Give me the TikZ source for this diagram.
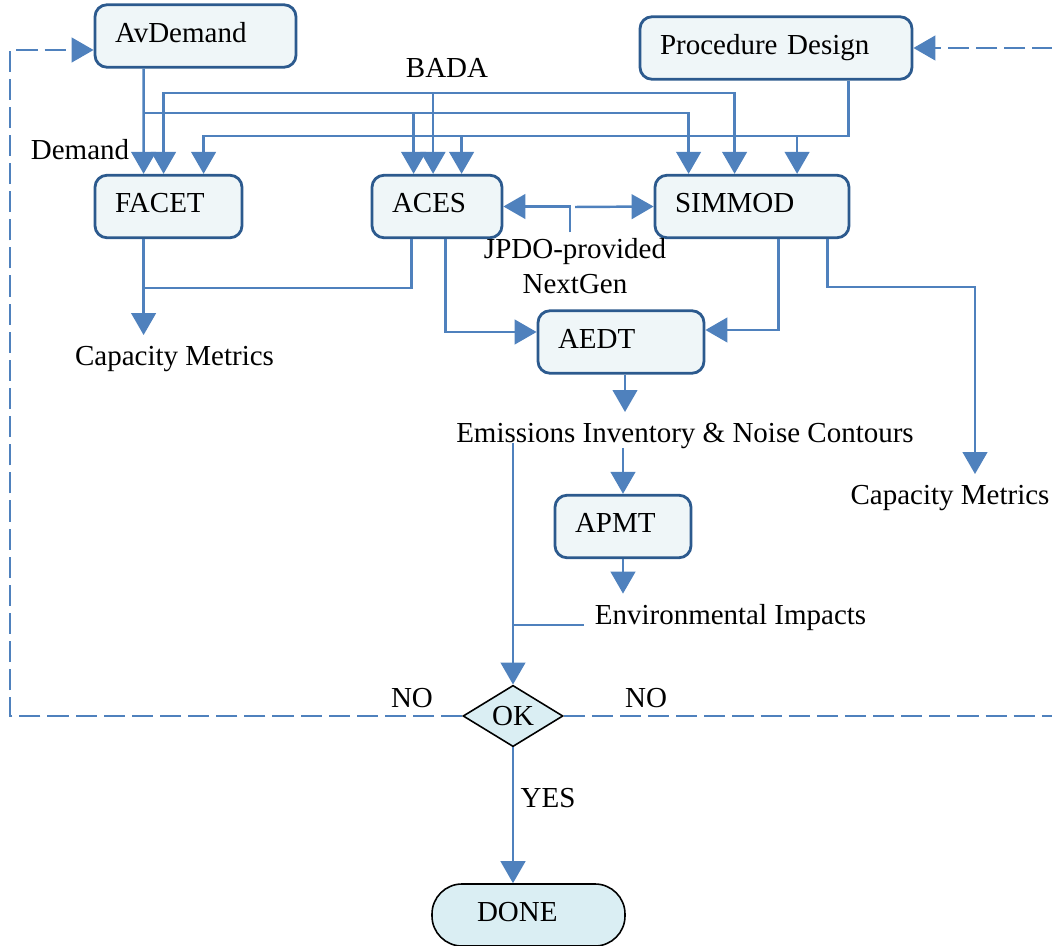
\documentclass[tikz,border=0pt]{standalone}
\usepackage{fontspec}
\setmainfont{Liberation Serif}
\usepackage{tikz}
\usetikzlibrary{positioning}
\usetikzlibrary{arrows.meta}
\usetikzlibrary{shapes.geometric}
\definecolor{wire}{HTML}{4F81BD}
\definecolor{boxline}{HTML}{2C5A8E}
\definecolor{boxfill}{HTML}{EFF6F8}
\definecolor{endfill}{HTML}{DAEEF3}
\tikzset{
blk/.style={
  rectangle,
  rounded corners=0.24cm,
  draw=boxline,
  line width=1.6pt,
  fill=boxfill,
  minimum height=1.25cm,
  text height=0.42cm,
  text depth=0.16cm,
  align=left,
  inner xsep=0.4cm
  },
dec/.style={
  diamond,
  draw=black,
  line width=0.9pt,
  fill=endfill,
  inner sep=0pt,
  minimum width=2cm,
  minimum height=1.12cm
  },
term/.style={
  rectangle,
  rounded corners=0.6cm,
  draw=black,
  line width=0.9pt,
  fill=endfill,
  minimum height=1.24cm,
  text height=0.42cm,
  text depth=0.16cm,
  align=left,
  inner xsep=0.9cm
  },
lbl/.style={
  inner sep=0.2cm
  },
fb/.style={
  dash pattern=on 12pt off 4pt
  }
}

\begin{document}
\begin{tikzpicture}[->,>={Triangle[width=14pt,length=12.5pt]},line width=1.4pt,draw=wire,
  font=\fontsize{16.5}{20}\selectfont]
        \useasboundingbox (0,0) rectangle (21.04,-18.92);
        % tools
        \node[blk,text width=3.22cm] at (3.91,-0.72) (avd) {AvDemand};
        \node[blk,text width=4.64cm] at (15.52,-0.96) (pd) {Procedure Design};
        \node[blk,text width=2.14cm] at (3.37,-4.13) (facet) {FACET};
        \node[blk,text width=1.80cm] at (8.74,-4.13) (aces) {ACES};
        \node[blk,text width=3.08cm] at (15.04,-4.13) (simmod) {SIMMOD};
        \node[blk,text width=2.52cm] at (12.42,-6.84) (aedt) {AEDT};
        \node[blk,text width=1.92cm] at (12.46,-10.53) (apmt) {APMT};
        \node[dec] at (10.26,-14.32) (ok) {OK};
        \node[term,text width=2.06cm] at (10.57,-18.3) (done) {DONE};
        % data and outputs
        \node[lbl] at (8.94,-1.36) (bada) {BADA};
        \node[lbl] at (1.6,-3.0) (dem) {Demand};
        \node[lbl,align=center,inner sep=0.1cm] at (11.5,-5.33) (jpdo) {JPDO-provided\\NextGen};
        \node[lbl] at (3.49,-7.18) (capl) {Capacity Metrics};
        \node[lbl] at (13.7,-8.72) (emis) {Emissions Inventory \& Noise Contours};
        \node[lbl] at (19.0,-9.96) (capr) {Capacity Metrics};
        \node[lbl] at (14.61,-12.36) (env) {Environmental Impacts};
        \node[lbl] at (8.24,-13.96) (nol) {NO};
        \node[lbl] at (12.92,-13.96) (nor) {NO};
        \node[lbl] at (10.96,-15.96) (yes) {YES};
        % bus lines
        \coordinate (dmd) at (2.9,-2.26);
        \coordinate (bd) at (8.66,-1.86);
        \coordinate (pr) at (15.94,-2.72);
        \coordinate (ng) at (11.4,-4.14);
        \coordinate (sc) at (19.5,-5.74);
        \coordinate (fbl) at (0.2,-14.32);
        \coordinate (fbr) at (21.3,-14.32);
        \draw ([xshift=1cm]avd.south west) -- ([xshift=1cm]facet.north west);
        \draw (dmd) -| ([xshift=0.86cm]aces.north west);
        \draw (dmd) -| ([xshift=0.7cm]simmod.north west);
        \draw (bd) -| ([xshift=1.4cm]facet.north west);
        \draw (bd) -| ([xshift=1.25cm]aces.north west);
        \draw (bd) -| ([xshift=1.62cm]simmod.north west);
        \draw ([xshift=4.2cm]pd.south west) |- (pr) -| ([xshift=2.87cm]simmod.north west);
        \draw (pr) -| ([xshift=2.2cm]facet.north west);
        \draw (pr) -| ([xshift=1.82cm]aces.north west);
        % NextGen inputs
        \draw (jpdo.north -| ng) |- (aces.east);
        \draw ([xshift=0.1cm]ng) -- (simmod.west);
        % capacity
        \draw ([xshift=1cm]facet.south west) -- ([xshift=1cm]facet.south west |- capl.north);
        \draw[-] ([xshift=0.82cm]aces.south west) |- ([xshift=1cm,yshift=-0.98cm]facet.south west);
        \draw ([xshift=3.48cm]simmod.south west) |- (sc) -- (sc |- capr.north);
        % environment
        \draw ([xshift=1.5cm]aces.south west) |- ([yshift=0.2cm]aedt.west);
        \draw ([xshift=2.5cm]simmod.south west) |- ([yshift=0.24cm]aedt.east);
        \draw ([xshift=0.08cm]aedt.south) -- ([xshift=0.08cm]aedt.south |- emis.north);
        \draw ([yshift=0.24cm]emis.south -| apmt.north) -- (apmt.north);
        \draw (apmt.south) -- (apmt.south |- env.north);
        \draw (ok.north |- emis.base) -- (ok.north);
        \draw[-] (env.base west) -- (env.base west -| ok.north);
        % decision
        \draw (ok.south) -- (ok.south |- done.north);
        \draw[fb] (ok.west) -- (fbl) |- ([yshift=-0.28cm]avd.west);
        \draw[fb] (ok.east) -- (fbr) |- (pd.east);
    \end{tikzpicture}
\end{document}
